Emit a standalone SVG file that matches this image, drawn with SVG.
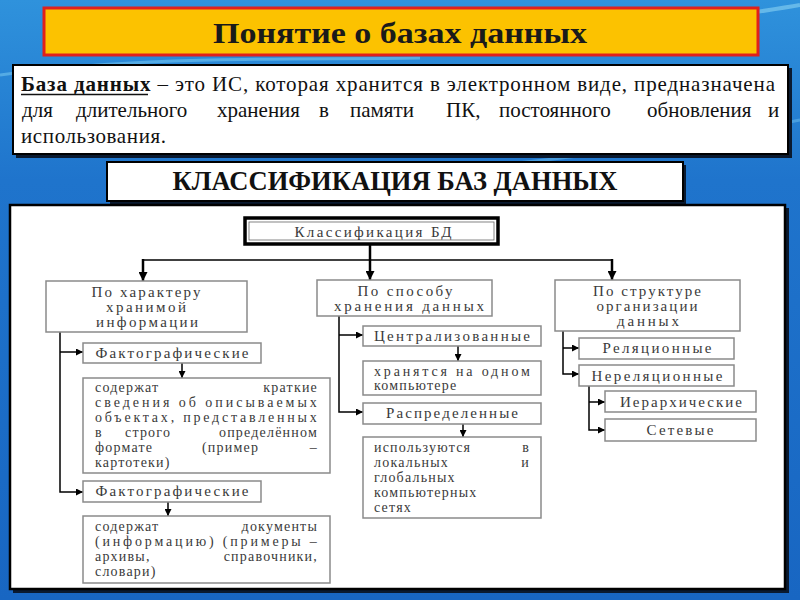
<svg xmlns="http://www.w3.org/2000/svg" width="800" height="600" viewBox="0 0 800 600" font-family="Liberation Serif, serif">
<defs>
  <linearGradient id="bg" x1="0" y1="0" x2="0" y2="1">
    <stop offset="0" stop-color="#2f92dc"/>
    <stop offset="0.3" stop-color="#1f74cc"/>
    <stop offset="1" stop-color="#1866c2"/>
  </linearGradient>
  <marker id="ah" viewBox="0 0 8 8" markerWidth="7" markerHeight="7" refX="8" refY="4" orient="auto" markerUnits="userSpaceOnUse">
    <path d="M0,0 L8,4 L0,8 z" fill="#000"/>
  </marker>
  <marker id="ahb" viewBox="0 0 8 8" markerWidth="9" markerHeight="9" refX="8" refY="4" orient="auto" markerUnits="userSpaceOnUse">
    <path d="M0,0 L8,4 L0,8 z" fill="#000"/>
  </marker>
</defs>
<style>
  .box { fill: #fff; stroke: #8a8a8a; stroke-width: 1.5; }
  .lbl { font-size: 15px; fill: #3a3a3a; text-anchor: middle; }
  .txt { font-size: 14px; fill: #3a3a3a; letter-spacing: 1.2px; }
  .txte { font-size: 14px; fill: #3a3a3a; letter-spacing: 1.2px; text-anchor: end; }
  .con { fill: none; stroke: #000; stroke-width: 1.5; }
  .conb { fill: none; stroke: #000; stroke-width: 2.5; }
  .def { font-size: 21px; fill: #111; }
</style>

<rect x="0" y="0" width="800" height="600" fill="url(#bg)"/>
<path d="M0,75 C150,55 300,60 420,58" fill="none" stroke="#7fd0f4" stroke-width="3" opacity="0.5"/>
<path d="M380,175 C520,165 650,150 800,120" fill="none" stroke="#7fd0f4" stroke-width="3" opacity="0.4"/>
<path d="M640,30 C700,20 760,12 800,5" fill="none" stroke="#9be0f8" stroke-width="4" opacity="0.5"/>

<g id="title">
  <rect x="44" y="8" width="714" height="47" fill="#fcc200" stroke="#e0201c" stroke-width="3"/>
  <text x="400" y="43" text-anchor="middle" font-weight="bold" font-size="29" fill="#1a1a1a" textLength="374" lengthAdjust="spacingAndGlyphs">Понятие о базах данных</text>
</g>

<g id="definition">
  <rect x="16" y="68" width="776" height="90" fill="#0a1a30"/>
  <rect x="13" y="65" width="775" height="89" fill="#fff" stroke="#000" stroke-width="2"/>
  <text class="def" x="21" y="91" textLength="754" lengthAdjust="spacing"><tspan font-weight="bold">База данных</tspan> – это ИС, которая хранится в электронном виде, предназначена</text>
  <line x1="21" y1="94.5" x2="148" y2="94.5" stroke="#111" stroke-width="1.3"/>
  <text class="def" y="117"><tspan x="22">для</tspan><tspan x="76">длительного</tspan><tspan x="217">хранения</tspan><tspan x="319">в</tspan><tspan x="350">памяти</tspan><tspan x="446">ПК,</tspan><tspan x="499">постоянного</tspan><tspan x="647">обновления</tspan><tspan x="768">и</tspan></text>
  <text class="def" x="21" y="143" textLength="145" lengthAdjust="spacing">использования.</text>
</g>

<g id="class-header">
  <rect x="110" y="165" width="576" height="39" fill="#0a1a30"/>
  <rect x="107" y="162" width="576" height="39" fill="#fff" stroke="#000" stroke-width="2"/>
  <text x="395" y="190" text-anchor="middle" font-weight="bold" font-size="27" fill="#111" textLength="445" lengthAdjust="spacingAndGlyphs">КЛАССИФИКАЦИЯ БАЗ ДАННЫХ</text>
</g>

<g id="panel">
  <rect x="13" y="208" width="776" height="385" fill="#0a1a30"/>
  <rect x="10" y="205" width="775" height="384" fill="#fff" stroke="#000" stroke-width="2.5"/>
</g>

<g id="connectors">
  <line class="conb" x1="370" y1="244" x2="370" y2="280" marker-end="url(#ahb)"/>
  <line class="con" x1="143" y1="260" x2="612" y2="260"/>
  <line class="conb" x1="143" y1="259" x2="143" y2="281" marker-end="url(#ahb)"/>
  <line class="conb" x1="612" y1="259" x2="612" y2="280" marker-end="url(#ahb)"/>

  <path class="con" d="M60,332 V492 H83" marker-end="url(#ah)"/>
  <path class="con" d="M60,352 H83" marker-end="url(#ah)"/>
  <line class="con" x1="182" y1="363" x2="182" y2="378" marker-end="url(#ah)"/>
  <line class="con" x1="168" y1="502" x2="168" y2="516" marker-end="url(#ah)"/>

  <path class="con" d="M339,316 V412 H363" marker-end="url(#ah)"/>
  <path class="con" d="M339,335 H363" marker-end="url(#ah)"/>
  <line class="con" x1="458" y1="346" x2="458" y2="361" marker-end="url(#ah)"/>
  <line class="con" x1="463" y1="424" x2="463" y2="437" marker-end="url(#ah)"/>

  <path class="con" d="M563,331 V374 H579" marker-end="url(#ah)"/>
  <path class="con" d="M563,348 H579" marker-end="url(#ah)"/>
  <path class="con" d="M589,386 V430 H605" marker-end="url(#ah)"/>
  <path class="con" d="M589,402 H605" marker-end="url(#ah)"/>
</g>

<g id="n-root">
  <rect x="245" y="218" width="253" height="26" fill="#fff" stroke="#000" stroke-width="3.5"/>
  <rect x="249" y="222" width="245" height="18" fill="none" stroke="#666" stroke-width="0.8"/>
  <text class="lbl" x="373" y="237" textLength="157" lengthAdjust="spacing">Классификация БД</text>
</g>

<g id="n-char">
  <rect class="box" x="46" y="281" width="201" height="51"/>
  <text class="lbl" x="146" y="297" textLength="109" lengthAdjust="spacing">По характеру</text>
  <text class="lbl" x="146" y="312" textLength="80" lengthAdjust="spacing">хранимой</text>
  <text class="lbl" x="147" y="327" textLength="102" lengthAdjust="spacing">информации</text>
</g>

<g id="n-fact1">
  <rect class="box" x="83" y="343" width="178" height="20"/>
  <text class="lbl" x="172" y="358" textLength="153" lengthAdjust="spacing">Фактографические</text>
</g>

<g id="n-fact1-desc">
  <rect class="box" x="83" y="378" width="247" height="95"/>
  <text class="txt" x="95" y="392">содержат</text><text class="txte" x="318" y="392">краткие</text>
  <text class="txt" x="95" y="407" textLength="223" lengthAdjust="spacing">сведения об описываемых</text>
  <text class="txt" x="95" y="422" textLength="223" lengthAdjust="spacing">объектах, представленных</text>
  <text class="txt" y="437"><tspan x="95">в</tspan><tspan x="125">строго</tspan></text><text class="txte" x="318" y="437">определённом</text>
  <text class="txt" y="452"><tspan x="95">формате</tspan><tspan x="202">(пример</tspan></text><text class="txte" x="318" y="452">–</text>
  <text class="txt" x="95" y="467">картотеки)</text>
</g>

<g id="n-fact2">
  <rect class="box" x="83" y="481" width="178" height="21"/>
  <text class="lbl" x="172" y="496" textLength="153" lengthAdjust="spacing">Фактографические</text>
</g>

<g id="n-fact2-desc">
  <rect class="box" x="83" y="516" width="247" height="67"/>
  <text class="txt" x="95" y="531">содержат</text><text class="txte" x="318" y="531">документы</text>
  <text class="txt" x="95" y="546" textLength="223" lengthAdjust="spacing">(информацию) (примеры –</text>
  <text class="txt" x="95" y="561">архивы,</text><text class="txte" x="318" y="561">справочники,</text>
  <text class="txt" x="95" y="576">словари)</text>
</g>

<g id="n-storage">
  <rect class="box" x="317" y="280" width="175" height="36"/>
  <text class="lbl" x="405" y="296" textLength="95" lengthAdjust="spacing">По способу</text>
  <text class="lbl" x="409" y="311" textLength="150" lengthAdjust="spacing">хранения данных</text>
</g>

<g id="n-central">
  <rect class="box" x="363" y="326" width="178" height="20"/>
  <text class="lbl" x="452" y="341" textLength="156" lengthAdjust="spacing">Централизованные</text>
</g>

<g id="n-central-desc">
  <rect class="box" x="363" y="361" width="178" height="34"/>
  <text class="txt" x="374" y="376" textLength="157" lengthAdjust="spacing">хранятся на одном</text>
  <text class="txt" x="374" y="390">компьютере</text>
</g>

<g id="n-distr">
  <rect class="box" x="363" y="403" width="178" height="21"/>
  <text class="lbl" x="452" y="418" textLength="132" lengthAdjust="spacing">Распределенные</text>
</g>

<g id="n-distr-desc">
  <rect class="box" x="363" y="437" width="178" height="81"/>
  <text class="txt" x="374" y="452">используются</text><text class="txte" x="530" y="452">в</text>
  <text class="txt" x="374" y="467">локальных</text><text class="txte" x="530" y="467">и</text>
  <text class="txt" x="374" y="482">глобальных</text>
  <text class="txt" x="374" y="497">компьютерных</text>
  <text class="txt" x="374" y="512">сетях</text>
</g>

<g id="n-struct">
  <rect class="box" x="555" y="280" width="185" height="51"/>
  <text class="lbl" x="647" y="296" textLength="108" lengthAdjust="spacing">По структуре</text>
  <text class="lbl" x="647" y="311" textLength="101" lengthAdjust="spacing">организации</text>
  <text class="lbl" x="648" y="326" textLength="62" lengthAdjust="spacing">данных</text>
</g>

<g id="n-rel">
  <rect class="box" x="579" y="338" width="155" height="21"/>
  <text class="lbl" x="657" y="353" textLength="109" lengthAdjust="spacing">Реляционные</text>
</g>

<g id="n-nonrel">
  <rect class="box" x="579" y="365" width="155" height="21"/>
  <text class="lbl" x="657" y="381" textLength="131" lengthAdjust="spacing">Нереляционные</text>
</g>

<g id="n-hier">
  <rect class="box" x="605" y="391" width="151" height="21"/>
  <text class="lbl" x="681" y="407" textLength="122" lengthAdjust="spacing">Иерархические</text>
</g>

<g id="n-net">
  <rect class="box" x="605" y="419" width="151" height="22"/>
  <text class="lbl" x="680" y="435" textLength="67" lengthAdjust="spacing">Сетевые</text>
</g>
</svg>
